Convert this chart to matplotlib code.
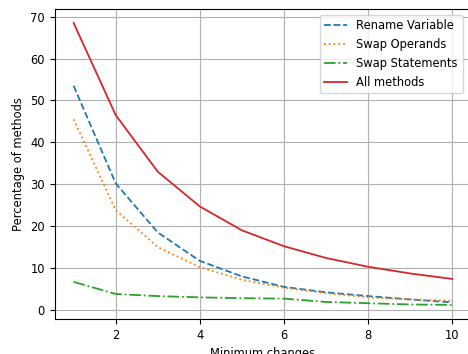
import matplotlib
matplotlib.use("Agg")
import matplotlib.pyplot as plt

x = [1, 2, 3, 4, 5, 6, 7, 8, 9, 10]
rename_variable = [53.5, 30.2, 18.5, 11.7, 8.0, 5.5, 4.2, 3.3, 2.5, 1.8]
swap_operands = [45.5, 23.8, 15.0, 10.2, 7.2, 5.3, 4.0, 3.0, 2.5, 2.2]
swap_statements = [6.7, 3.8, 3.3, 3.0, 2.8, 2.7, 1.9, 1.6, 1.3, 1.2]
all_methods = [68.5, 46.5, 33.0, 24.7, 19.0, 15.2, 12.4, 10.3, 8.7, 7.4]

plt.rcParams['font.size'] = 8.3
plt.rcParams['lines.linewidth'] = 1.3
fig = plt.figure(figsize=(4.68, 3.54), dpi=100)
ax = fig.add_axes([0.1169, 0.0989, 0.890, 0.876])
ax.plot(x, rename_variable, '--', color='#1f77b4', label='Rename Variable')
ax.plot(x, swap_operands, ':', color='#ff7f0e', label='Swap Operands')
ax.plot(x, swap_statements, '-.', color='#2ca02c', label='Swap Statements')
ax.plot(x, all_methods, '-', color='#d62728', label='All methods')
ax.set_xlabel('Minimum changes')
ax.set_ylabel('Percentage of methods')
ax.set_xticks([2, 4, 6, 8, 10])
ax.set_yticks(range(0, 71, 10))
ax.grid(True)
ax.legend(loc='upper right', bbox_to_anchor=(0.993, 1.0))
fig.savefig('out.png', dpi=100)
